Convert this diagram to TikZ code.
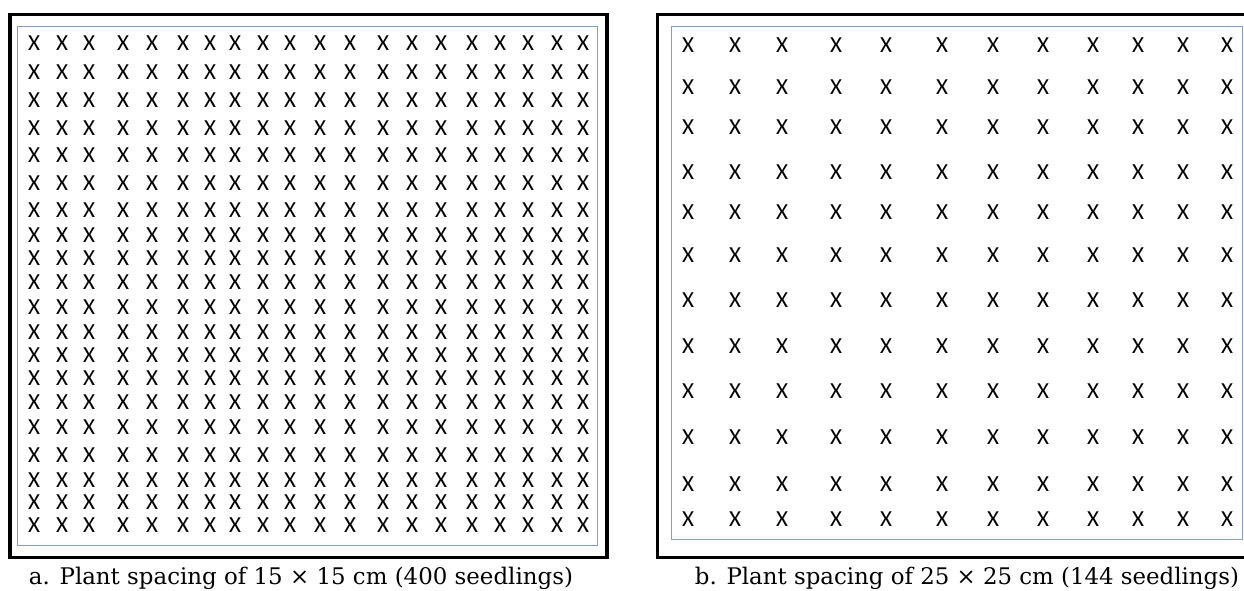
\documentclass[tikz,border=0pt]{standalone}
\usepackage{fontspec}
\setmainfont{DejaVu Serif}
\newfontfamily\xfont{Carlito}
\definecolor{innerblue}{RGB}{128,158,198}
\begin{document}
\begin{tikzpicture}[x=1pt,y=-1pt,
  plant/.style={font=\xfont\fontsize{23}{23}\selectfont, inner sep=0pt, text=black},
  outerbox/.style={draw=black,line width=3.3pt},
  innerbox/.style={draw=innerblue,line width=0.9pt},
  caption/.style={font=\fontsize{19}{22}\selectfont, inner sep=0pt, anchor=base}]
\useasboundingbox (0,0) rectangle (1244,590);
\clip (0,0) rectangle (1244,590);
% panel a
\draw[outerbox] (10,14.3) rectangle (607,557.7);
\draw[innerbox] (17.3,26) rectangle (597,545);
\foreach \y [count=\j] in {43,72,100,128,155,183,210,235,258,282,307,332,355,378,402,427,455,480,502,525}{
  \foreach \x [count=\i] in {34,62,89,123,152,183,210,235,263,290,320,350,383,412,441,472,500,528,557,583}{
    \node[plant] (a-\i-\j) at (\x,\y) {X};
  }
}
\node[caption] (capA) at (301,584) {\resizebox{544pt}{!}{a. Plant spacing of 15 × 15 cm (400 seedlings)}};
% panel b
\draw[outerbox] (657.7,14.3) rectangle (1260,557.7);
\draw[innerbox] (671.7,26.5) rectangle (1242,539);
\foreach \y [count=\j] in {45,87,127,172,212,255,300,346,391,437,484,519}{
  \foreach \x [count=\i] in {688,735,782,836,886,942,993,1043,1093,1138,1183,1227}{
    \node[plant] (b-\i-\j) at (\x,\y) {X};
  }
}
\node[caption] (capB) at (967,584) {\resizebox{544pt}{!}{b. Plant spacing of 25 × 25 cm (144 seedlings)}};
\end{tikzpicture}
\end{document}
